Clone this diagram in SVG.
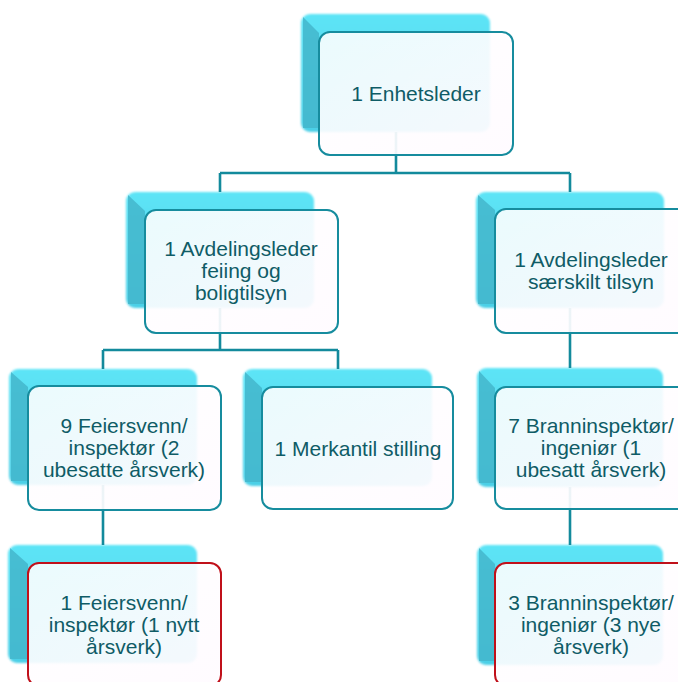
<svg xmlns="http://www.w3.org/2000/svg" width="678" height="682" viewBox="0 0 678 682">
<defs>
<linearGradient id="cy" x1="0" y1="0" x2="0" y2="1">
<stop offset="0" stop-color="#5de4f6"/>
<stop offset="1" stop-color="#4ccfe6"/>
</linearGradient>
<linearGradient id="fr" x1="0" y1="0" x2="1" y2="1">
<stop offset="0" stop-color="#ffffff" stop-opacity="0.88"/>
<stop offset="1" stop-color="#fffbff" stop-opacity="0.95"/>
</linearGradient>
<filter id="soft" x="-5%" y="-5%" width="110%" height="110%">
<feGaussianBlur stdDeviation="1.2"/>
</filter>
</defs>
<style>
.back{fill:url(#cy);filter:url(#soft)}
.bev{fill:#43b6cb;opacity:0.85}
.front{fill:url(#fr);stroke:#168c9e;stroke-width:2}
.front.red{stroke:#c0101a}
.conn{fill:none;stroke:#138a9c;stroke-width:2.6}
text{font-family:"Liberation Sans",Arial,sans-serif;font-size:21px;fill:#0f5c66;text-anchor:middle}
</style>
<rect width="678" height="682" fill="#ffffff"/>

<g id="backs">
<rect class="back" x="301" y="14" width="189" height="118" rx="9"/>
<polygon class="bev" points="303,17 319,33 319,128 303,128"/>
<rect class="back" x="126" y="192" width="188" height="116" rx="9"/>
<polygon class="bev" points="128,195 145,211 145,304 128,304"/>
<rect class="back" x="476" y="192" width="188" height="116" rx="9"/>
<polygon class="bev" points="478,195 495,210 495,304 478,304"/>
<rect class="back" x="9" y="369" width="188" height="116" rx="9"/>
<polygon class="bev" points="11,372 28,387 28,481 11,481"/>
<rect class="back" x="243" y="369" width="189" height="117" rx="9"/>
<polygon class="bev" points="245,372 262,388 262,482 245,482"/>
<rect class="back" x="477" y="368" width="186" height="119" rx="9"/>
<polygon class="bev" points="479,371 495,388 495,483 479,483"/>
<rect class="back" x="8" y="545" width="189" height="118" rx="9"/>
<polygon class="bev" points="10,548 28,564 28,659 10,659"/>
<rect class="back" x="477" y="545" width="186" height="120" rx="9"/>
<polygon class="bev" points="479,548 495,564 495,661 479,661"/>
</g>

<g id="connectors">
<path class="conn" d="M396,132 V173 M220,173 H570 M220,173 V192 M570,173 V192"/>
<path class="conn" d="M220,308 V350 M103,350 H338 M103,350 V369 M338,350 V369"/>
<path class="conn" d="M570,308 V368"/>
<path class="conn" d="M103,485 V545"/>
<path class="conn" d="M570,487 V545"/>
</g>

<g id="n1">
<rect class="front" x="319" y="32" width="194" height="123" rx="11"/>
<text x="416" y="101">1 Enhetsleder</text>
</g>
<g id="n2">
<rect class="front" x="145" y="210" width="193" height="123" rx="11"/>
<text x="241" y="256">1 Avdelingsleder</text>
<text x="241" y="278">feiing og</text>
<text x="241" y="300">boligtilsyn</text>
</g>
<g id="n3">
<rect class="front" x="495" y="209" width="193" height="124" rx="11"/>
<text x="591" y="267">1 Avdelingsleder</text>
<text x="591" y="289">særskilt tilsyn</text>
</g>
<g id="n4">
<rect class="front" x="28" y="386" width="193" height="124" rx="11"/>
<text x="124" y="433">9 Feiersvenn/</text>
<text x="124" y="455">inspektør (2</text>
<text x="124" y="477">ubesatte årsverk)</text>
</g>
<g id="n5">
<rect class="front" x="262" y="387" width="191" height="122" rx="11"/>
<text x="358" y="456">1 Merkantil stilling</text>
</g>
<g id="n6">
<rect class="front" x="495" y="387" width="193" height="122" rx="11"/>
<text x="591" y="433">7 Branninspektør/</text>
<text x="591" y="455">ingeniør (1</text>
<text x="591" y="477">ubesatt årsverk)</text>
</g>
<g id="n7">
<rect class="front red" x="28" y="563" width="193" height="123" rx="11"/>
<text x="124" y="610">1 Feiersvenn/</text>
<text x="124" y="632">inspektør (1 nytt</text>
<text x="124" y="654">årsverk)</text>
</g>
<g id="n8">
<rect class="front red" x="495" y="563" width="193" height="123" rx="11"/>
<text x="591" y="610">3 Branninspektør/</text>
<text x="591" y="632">ingeniør (3 nye</text>
<text x="591" y="654">årsverk)</text>
</g>
</svg>
